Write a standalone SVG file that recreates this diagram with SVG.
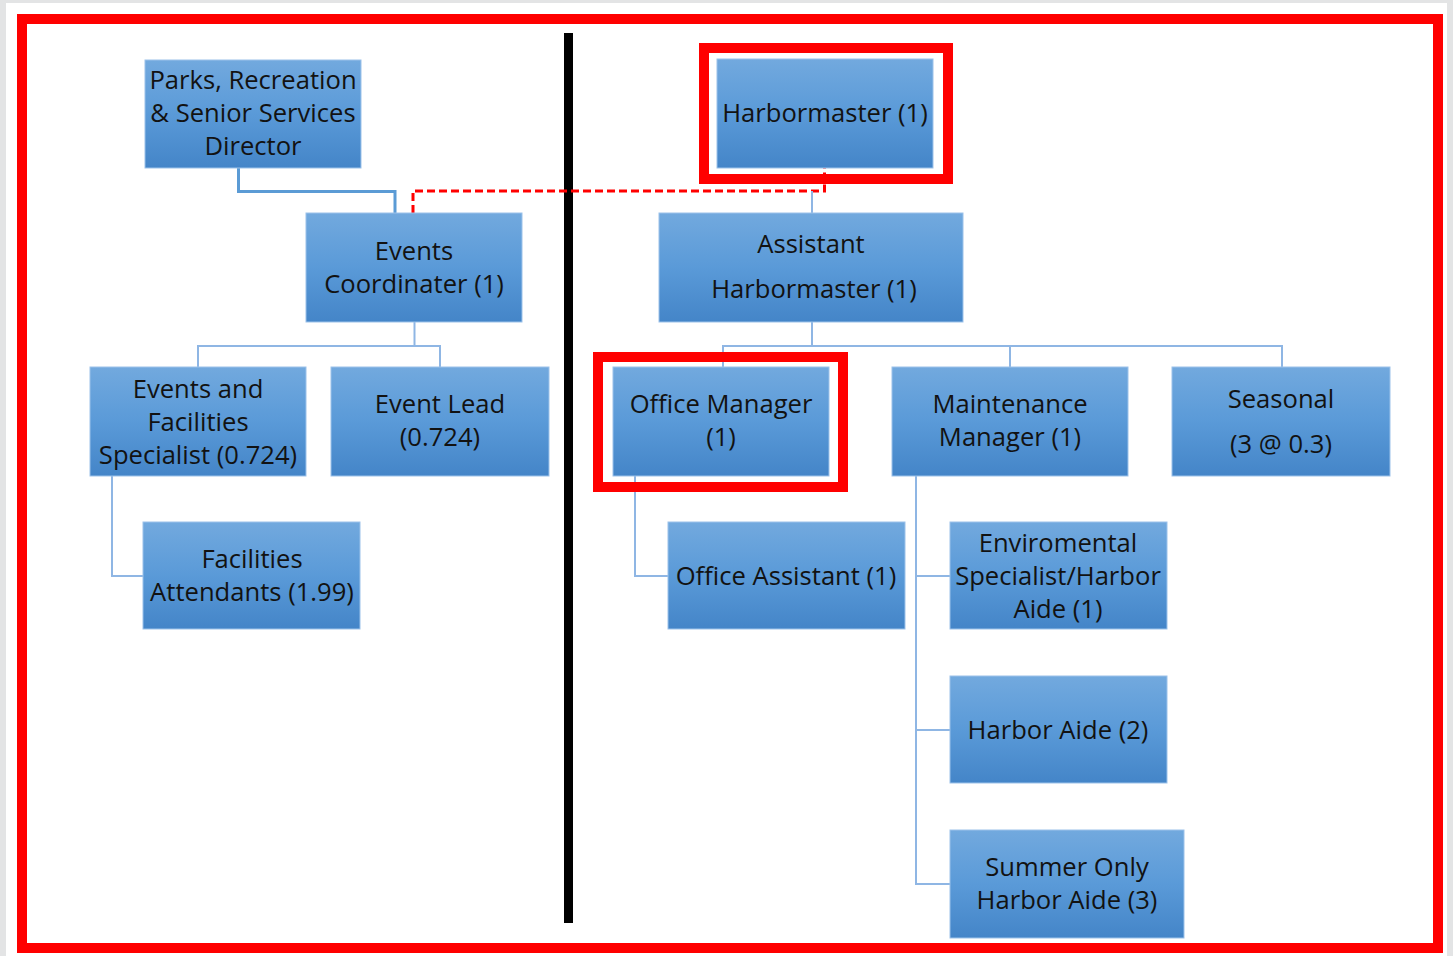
<svg xmlns="http://www.w3.org/2000/svg" width="1453" height="956" viewBox="0 0 1453 956">
  <defs>
    <linearGradient id="boxFill" x1="0" y1="0" x2="0" y2="1">
      <stop offset="0" stop-color="#72a9de"/>
      <stop offset="0.5" stop-color="#5a9ad8"/>
      <stop offset="1" stop-color="#4485c8"/>
    </linearGradient>
    <style>
      .box { fill: url(#boxFill); stroke: #9cc2ea; stroke-width: 1; }
      .lbl { font-family: "Open Sans", "Noto Sans", sans-serif; font-size: 25.6px; fill: #121212; text-anchor: middle; }
      .conn { fill: none; stroke: #8fb6e4; stroke-width: 2; }
      .conn-main { fill: none; stroke: #5b9bd5; stroke-width: 3; }
      .dotted { fill: none; stroke: #ff0000; stroke-width: 3; stroke-dasharray: 8 4; }
      .hilite { fill: none; stroke: #ff0000; stroke-width: 10; }
    </style>
  </defs>

  <!-- page -->
  <rect x="0" y="0" width="1453" height="956" fill="#e3e4e5"/>
  <rect x="6" y="3" width="1441" height="953" fill="#ffffff"/>

  <!-- outer frame and divider -->
  <rect x="22" y="19" width="1416" height="929" fill="none" stroke="#ff0000" stroke-width="10"/>
  <line x1="568.5" y1="33" x2="568.5" y2="923" stroke="#000000" stroke-width="9"/>

  <!-- connectors -->
  <g id="connectors">
    <polyline class="conn-main" points="238.5,168 238.5,191.5 395,191.5 395,213"/>
    <polyline class="dotted" points="413,213 413,191 824.5,191 824.5,168"/>
    <line class="conn" x1="812" y1="191" x2="812" y2="213"/>
    <polyline class="conn" points="414.5,322 414.5,346"/>
    <polyline class="conn" points="198,367 198,346 440,346 440,367"/>
    <polyline class="conn" points="112,476 112,576 143,576"/>
    <polyline class="conn" points="812,322 812,346"/>
    <polyline class="conn" points="723,367 723,346 1282,346 1282,367"/>
    <line class="conn" x1="1010" y1="346" x2="1010" y2="367"/>
    <polyline class="conn" points="635,476 635,576 668,576"/>
    <polyline class="conn" points="916,476 916,884 950,884"/>
    <line class="conn" x1="916" y1="576" x2="950" y2="576"/>
    <line class="conn" x1="916" y1="730" x2="950" y2="730"/>
  </g>

  <!-- nodes -->
  <g id="node-parks-director">
    <rect class="box" x="145" y="60" width="216" height="108"/>
    <text class="lbl" x="253" y="89">Parks, Recreation</text>
    <text class="lbl" x="253" y="122">&amp; Senior Services</text>
    <text class="lbl" x="253" y="155">Director</text>
  </g>
  <g id="node-events-coordinator">
    <rect class="box" x="306" y="213" width="216" height="109"/>
    <text class="lbl" x="414" y="260">Events</text>
    <text class="lbl" x="414" y="293">Coordinater (1)</text>
  </g>
  <g id="node-harbormaster">
    <rect class="box" x="717" y="59" width="216" height="109"/>
    <text class="lbl" x="825" y="122">Harbormaster (1)</text>
    <rect class="hilite" x="704" y="48" width="244" height="131"/>
  </g>
  <g id="node-assistant-harbormaster">
    <rect class="box" x="659" y="213" width="304" height="109"/>
    <text class="lbl" x="811" y="253">Assistant</text>
    <text class="lbl" x="814" y="298">Harbormaster (1)</text>
  </g>
  <g id="node-events-facilities-specialist">
    <rect class="box" x="90" y="367" width="216" height="109"/>
    <text class="lbl" x="198" y="398">Events and</text>
    <text class="lbl" x="198" y="431">Facilities</text>
    <text class="lbl" x="198" y="464">Specialist (0.724)</text>
  </g>
  <g id="node-event-lead">
    <rect class="box" x="331" y="367" width="218" height="109"/>
    <text class="lbl" x="440" y="413">Event Lead</text>
    <text class="lbl" x="440" y="446">(0.724)</text>
  </g>
  <g id="node-office-manager">
    <rect class="box" x="613" y="367" width="216" height="109"/>
    <text class="lbl" x="721" y="413">Office Manager</text>
    <text class="lbl" x="721" y="446">(1)</text>
    <rect class="hilite" x="598" y="357" width="245" height="130"/>
  </g>
  <g id="node-maintenance-manager">
    <rect class="box" x="892" y="367" width="236" height="109"/>
    <text class="lbl" x="1010" y="413">Maintenance</text>
    <text class="lbl" x="1010" y="446">Manager (1)</text>
  </g>
  <g id="node-seasonal">
    <rect class="box" x="1172" y="367" width="218" height="109"/>
    <text class="lbl" x="1281" y="408">Seasonal</text>
    <text class="lbl" x="1281" y="453">(3 @ 0.3)</text>
  </g>
  <g id="node-facilities-attendants">
    <rect class="box" x="143" y="522" width="217" height="107"/>
    <text class="lbl" x="252" y="568">Facilities</text>
    <text class="lbl" x="252" y="601">Attendants (1.99)</text>
  </g>
  <g id="node-office-assistant">
    <rect class="box" x="668" y="522" width="237" height="107"/>
    <text class="lbl" x="786" y="585">Office Assistant (1)</text>
  </g>
  <g id="node-environmental-specialist">
    <rect class="box" x="950" y="522" width="217" height="107"/>
    <text class="lbl" x="1058" y="552">Enviromental</text>
    <text class="lbl" x="1058" y="585">Specialist/Harbor</text>
    <text class="lbl" x="1058" y="618">Aide (1)</text>
  </g>
  <g id="node-harbor-aide">
    <rect class="box" x="950" y="676" width="217" height="107"/>
    <text class="lbl" x="1058" y="739">Harbor Aide (2)</text>
  </g>
  <g id="node-summer-harbor-aide">
    <rect class="box" x="950" y="830" width="234" height="108"/>
    <text class="lbl" x="1067" y="876">Summer Only</text>
    <text class="lbl" x="1067" y="909">Harbor Aide (3)</text>
  </g>
</svg>
